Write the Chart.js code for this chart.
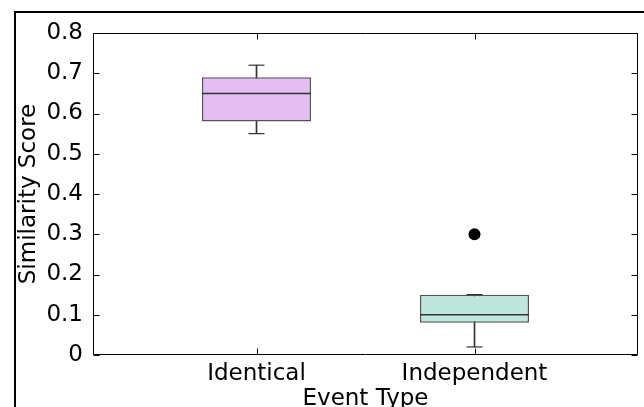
<!DOCTYPE html>
<html>
<head>
<meta charset="utf-8">
<script src="https://cdn.jsdelivr.net/npm/chart.js@4"></script>
<style>
  html, body { margin: 0; padding: 0; background: #fff; overflow: hidden; width: 644px; height: 407px; }
  #frame { position: absolute; left: 14px; top: 11px; width: 720px; height: 500px; border: 2px solid #000; box-sizing: border-box; }
  #wrap { position: absolute; left: 0; top: 0; width: 644px; height: 420px; }
</style>
</head>
<body>
<div id="frame"></div>
<div id="wrap"><canvas id="c"></canvas></div>
<script>
// ---- data ----
const categories = ['Identical', 'Independent'];
const positions = [1, 2];
const whiskerLow = [0.55, 0.02];
const q1 = [0.58, 0.08];
const median = [0.65, 0.10];
const q3 = [0.69, 0.15];
const whiskerHigh = [0.72, 0.15];
const outliers = [[], [0.30]];
const yTicks = [0, 0.1, 0.2, 0.3, 0.4, 0.5, 0.6, 0.7, 0.8];
const boxColors = ['#e4bef2', '#bfe6dc'];

Chart.defaults.font.family = '"DejaVu Sans", sans-serif';
Chart.defaults.font.size = 23;
Chart.defaults.color = '#000';

const boxData = positions.map((x, i) => ({ x: x, y: [q1[i], q3[i]] }));
const whiskerData = positions.map((x, i) => ({ x: x, y: [whiskerLow[i], whiskerHigh[i]] }));
const medianData = positions.map((x, i) => ({ x: x, y: median[i] }));
const capData = [];
positions.forEach((x, i) => { capData.push({ x: x, y: whiskerLow[i] }); capData.push({ x: x, y: whiskerHigh[i] }); });
const outlierData = [];
positions.forEach((x, i) => outliers[i].forEach(v => outlierData.push({ x: x, y: v })));

const frameTicks = {
  id: 'frameTicks',
  afterDatasetsDraw(chart) {
    const { ctx, chartArea: a, scales: { x, y } } = chart;
    ctx.save();
    ctx.strokeStyle = '#000';
    ctx.lineWidth = 1;
    ctx.beginPath();
    const L = Math.round(a.left) + 0.5, R = Math.round(a.right) - 0.5;
    const T = Math.round(a.top) + 0.5, B = Math.round(a.bottom) - 0.5;
    ctx.rect(L, T, R - L, B - T);
    const len = 6;
    y.ticks.forEach(t => {
      const py = Math.round(y.getPixelForValue(t.value)) + 0.5;
      ctx.moveTo(L, py); ctx.lineTo(L + len, py);
      ctx.moveTo(R, py); ctx.lineTo(R - len, py);
    });
    x.ticks.forEach(t => {
      const px = Math.round(x.getPixelForValue(t.value)) + 0.5;
      ctx.moveTo(px, B); ctx.lineTo(px, B - len);
      ctx.moveTo(px, T); ctx.lineTo(px, T + len);
    });
    ctx.stroke();
    ctx.restore();
  }
};

const zeroPad = s => { s.paddingLeft = 0; s.paddingRight = 0; s.paddingTop = 0; s.paddingBottom = 0; };

new Chart(document.getElementById('c'), {
  type: 'bar',
  data: {
    datasets: [
      {
        type: 'scatter', label: 'outliers', data: outlierData,
        pointStyle: 'circle', pointRadius: 6, backgroundColor: '#000', borderColor: '#000', borderWidth: 0, order: 0
      },
      {
        type: 'scatter', label: 'median', data: medianData,
        pointStyle: 'line', pointRadius: 54.5, borderColor: '#333', pointBorderWidth: 1.5, order: 1
      },
      {
        type: 'scatter', label: 'caps', data: capData,
        pointStyle: 'line', pointRadius: 8, borderColor: '#333', pointBorderWidth: 1.2, order: 2
      },
      {
        type: 'bar', label: 'boxes', data: boxData,
        backgroundColor: boxColors, borderColor: '#555', borderWidth: 1.5, borderSkipped: false,
        grouped: false, barPercentage: 0.5, categoryPercentage: 1, order: 3
      },
      {
        type: 'bar', label: 'whiskers', data: whiskerData,
        backgroundColor: '#333', borderWidth: 0, barThickness: 1, grouped: false, order: 4
      }
    ]
  },
  options: {
    responsive: true,
    maintainAspectRatio: false,
    animation: false,
    layout: { autoPadding: false, padding: { top: 33, right: 6, left: 0, bottom: 0 } },
    plugins: { legend: { display: false }, tooltip: { enabled: false } },
    scales: {
      x: {
        type: 'linear', min: 0.25, max: 2.75, offset: false,
        grid: { display: false, drawTicks: false, offset: false },
        border: { display: false },
        afterBuildTicks: s => { s.ticks = positions.map(v => ({ value: v })); },
        ticks: { padding: 5, callback: (v, i) => categories[i] },
        title: { display: true, text: 'Event Type', font: { size: 23 }, padding: { top: 0, bottom: 7 } },
        afterFit: s => { s.height = 65; zeroPad(s); }
      },
      y: {
        type: 'linear', min: 0, max: 0.8,
        grid: { display: false, drawTicks: false },
        border: { display: false },
        afterBuildTicks: s => { s.ticks = yTicks.map(v => ({ value: v })); },
        ticks: { padding: 10, callback: v => (v === 0 ? '0' : v.toFixed(1)) },
        title: { display: true, text: 'Similarity Score', font: { size: 23 }, padding: { top: 15.5, bottom: 0 } },
        afterFit: s => { s.width = 93; zeroPad(s); }
      }
    }
  },
  plugins: [frameTicks]
});
</script>
</body>
</html>
